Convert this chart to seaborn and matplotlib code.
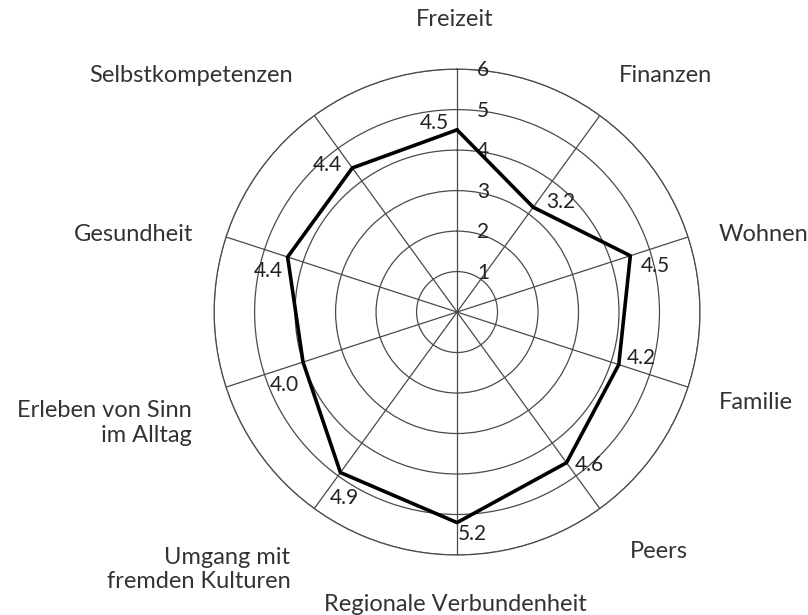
import numpy as np
import matplotlib.pyplot as plt
import seaborn as sns

# Daten (im Uhrzeigersinn ab oben)
kategorien = ['Freizeit', 'Finanzen', 'Wohnen', 'Familie', 'Peers',
              'Regionale Verbundenheit', 'Umgang mit\nfremden Kulturen',
              'Erleben von Sinn\nim Alltag', 'Gesundheit', 'Selbstkompetenzen']
werte = [4.5, 3.2, 4.5, 4.2, 4.6, 5.2, 4.9, 4.0, 4.4, 4.4]
wert_texte = ['4.5', '3.2', '4.5', '4.2', '4.6', '5.2', '4.9', '4.0', '4.4', '4.4']
ringe = [1, 2, 3, 4, 5, 6]

# Positionen der Beschriftungen (Pixel-Versatz)
kat_offset = [(-2, 50), (19, 40), (31, 2), (31, -15), (30, -43),
              (-2, -50), (-24, -61), (-34, -36), (-33, 2), (-21, 40)]
kat_ha = ['center', 'left', 'left', 'left', 'left',
          'center', 'right', 'right', 'right', 'right']
wert_offset = [(-23, 7), (28, 5), (25, -10), (23, 7), (23, -2),
               (15, -11), (4, -25), (-19, -23), (-19, -14), (-25, 3)]

sns.set_style('white')
plt.rcParams['font.family'] = ['Lato', 'DejaVu Sans']
grau = '#4a4a4a'

winkel = np.linspace(0, 2 * np.pi, len(kategorien), endpoint=False)
winkel_zu = np.append(winkel, 2 * np.pi)
werte_zu = werte + werte[:1]

fig = plt.figure(figsize=(8.08, 6.15), dpi=100)
ax = fig.add_axes([0.2649, 0.0976, 0.6015, 0.790], projection='polar')
ax.set_theta_zero_location('N')
ax.set_theta_direction(-1)
ax.set_ylim(0, 6)
ax.set_yticks(ringe)
ax.set_yticklabels([])
ax.set_xticks(winkel)
ax.set_xticklabels([])
ax.grid(True, color=grau, lw=0.9)
ax.spines['polar'].set_color(grau)
ax.spines['polar'].set_linewidth(0.9)

sns.lineplot(x=winkel_zu, y=werte_zu, ax=ax, sort=False, estimator=None,
             color='black', lw=2.6, zorder=5)

# Ring-Beschriftungen
for r in ringe:
    ax.annotate(str(r), xy=(0, r), xytext=(26, -1), textcoords='offset pixels',
                ha='center', va='center', fontsize=15, color='#222222')

# Werte
for w, r, t, off in zip(winkel, werte, wert_texte, wert_offset):
    ax.annotate(t, xy=(w, r), xytext=off, textcoords='offset pixels',
                ha='center', va='center', fontsize=15, color='#222222')

# Kategorien
for w, k, off, ha in zip(winkel, kategorien, kat_offset, kat_ha):
    ax.annotate(k, xy=(w, 6), xytext=off, textcoords='offset pixels',
                ha=ha, va='center', fontsize=17, color='#333333',
                multialignment=ha if ha != 'center' else 'center',
                linespacing=1.2, annotation_clip=False)

plt.savefig('out.png', dpi=100)
